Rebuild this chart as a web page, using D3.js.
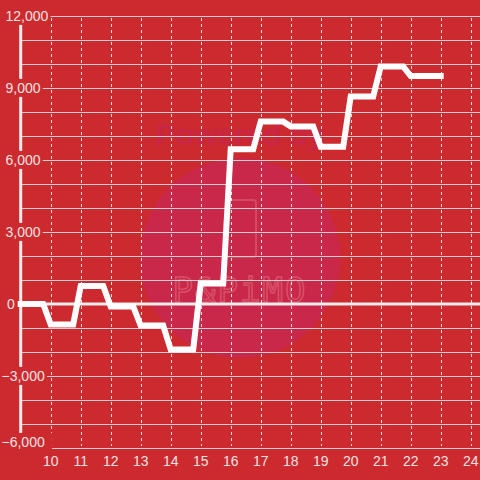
<!DOCTYPE html>
<html>
<head>
<meta charset="utf-8">
<script src="https://cdn.jsdelivr.net/npm/d3@7"></script>
<style>
  html, body { margin: 0; padding: 0; background: #CC2A2F; }
  svg { display: block; }
</style>
</head>
<body>
<svg id="chart" width="480" height="480"></svg>
<script>
// ---- data ----
const hours = [9, 10, 11, 12, 13, 14, 15, 16, 17, 18, 19, 20, 21, 22, 23];
const values = [0, -850, 750, -100, -900, -1900, 850, 6450, 7600, 7400, 6550, 8650, 9900, 9500, 9500];
const xTicks = [10, 11, 12, 13, 14, 15, 16, 17, 18, 19, 20, 21, 22, 23, 24];
const yGridTicks = [-6000, -5000, -4000, -3000, -2000, -1000, 0, 1000, 2000, 3000, 4000, 5000, 6000, 7000, 8000, 9000, 10000, 11000, 12000];
const yLabelTicks = [-6000, -3000, 0, 3000, 6000, 9000, 12000];

const W = 480, H = 480;
const bg = "#CC2A2F";
const textColor = "#F4E2E2";

const svg = d3.select("#chart");
const x = d3.scaleLinear().domain([9, 24]).range([20.7, 470.7]);
const y = d3.scaleLinear().domain([-6000, 12000]).range([448, 16]);

svg.append("rect").attr("width", W).attr("height", H).attr("fill", bg);

// watermark
const wm = svg.append("g");
wm.append("circle").attr("cx", 240).attr("cy", 258).attr("r", 100).attr("fill", "#C9284A");
wm.append("text").attr("x", 240).attr("y", 145).attr("text-anchor", "middle")
  .attr("font-family", "Liberation Sans, Arial, sans-serif").attr("font-weight", "bold")
  .attr("font-size", 30).attr("fill", "#C82644").text("Powered by");
wm.append("rect").attr("x", 226).attr("y", 200).attr("width", 30).attr("height", 57).attr("rx", 3)
  .attr("fill", "none").attr("stroke", "#D44A63").attr("stroke-width", 2);
wm.append("text").attr("x", 240).attr("y", 302).attr("text-anchor", "middle")
  .attr("font-family", "DejaVu Sans Mono, monospace").attr("font-size", 34)
  .attr("letter-spacing", 2)
  .attr("fill", "none").attr("stroke", "#D85068").attr("stroke-width", 1.5).text("P&PiMO");

// horizontal gridlines
svg.append("g").selectAll("line").data(yGridTicks).join("line")
  .attr("x1", x(9)).attr("x2", W)
  .attr("y1", d => Math.round(y(d)) + 0.5).attr("y2", d => Math.round(y(d)) + 0.5)
  .attr("stroke", "#CFCFCF").attr("stroke-width", 1);

// vertical dashed gridlines
svg.append("g").selectAll("line").data(xTicks).join("line")
  .attr("x1", d => Math.round(x(d)) + 0.5).attr("x2", d => Math.round(x(d)) + 0.5)
  .attr("y1", y(12000) + 2).attr("y2", y(-6000) - 2)
  .attr("stroke", "#E6E6E6").attr("stroke-width", 1).attr("stroke-dasharray", "3,3");

// zero line
svg.append("line").attr("x1", x(9)).attr("x2", W).attr("y1", y(0)).attr("y2", y(0))
  .attr("stroke", "#F2ECEC").attr("stroke-width", 3);

// y axis line
svg.append("line").attr("x1", x(9)).attr("x2", x(9)).attr("y1", y(12000)).attr("y2", y(-6000))
  .attr("stroke", "#F2ECEC").attr("stroke-width", 3);

// y labels with background
const fmt = d3.format(",");
const yl = svg.append("g").selectAll("g").data(yLabelTicks).join("g");
yl.each(function(d) {
  const g = d3.select(this);
  const ty = d === -6000 ? y(d) - 6 : y(d);
  const t = g.append("text")
    .attr("x", d < 0 ? 1.5 : (d === 0 ? 7 : 5.5)).attr("y", ty).attr("dy", "0.35em")
    .attr("font-family", "Liberation Sans, Arial, sans-serif").attr("font-size", 14)
    .attr("fill", textColor).text(fmt(d));
  const b = t.node().getBBox();
  const padR = d === -6000 ? 7 : 2;
  g.insert("rect", "text").attr("x", 0).attr("y", b.y - 1)
    .attr("width", b.x + b.width + padR).attr("height", b.height + 2).attr("fill", bg);
});

// x labels
svg.append("g").selectAll("text").data(xTicks).join("text")
  .attr("x", d => x(d)).attr("y", 466).attr("text-anchor", "middle")
  .attr("font-family", "Liberation Sans, Arial, sans-serif").attr("font-size", 14)
  .attr("fill", textColor).text(d => d);

// data line (step shape: hold value for 3/4 hour, then move to next)
const pts = [];
hours.forEach((h, i) => {
  pts.push([h, values[i]]);
  if (i < hours.length - 1) pts.push([h + 0.75, values[i]]);
});
const line = d3.line().x(d => x(d[0])).y(d => y(d[1]));
svg.append("path").datum(pts).attr("d", line)
  .attr("fill", "none").attr("stroke", "#FFFFFF").attr("stroke-width", 6)
  .attr("stroke-linecap", "square").attr("stroke-linejoin", "miter");
</script>
</body>
</html>
